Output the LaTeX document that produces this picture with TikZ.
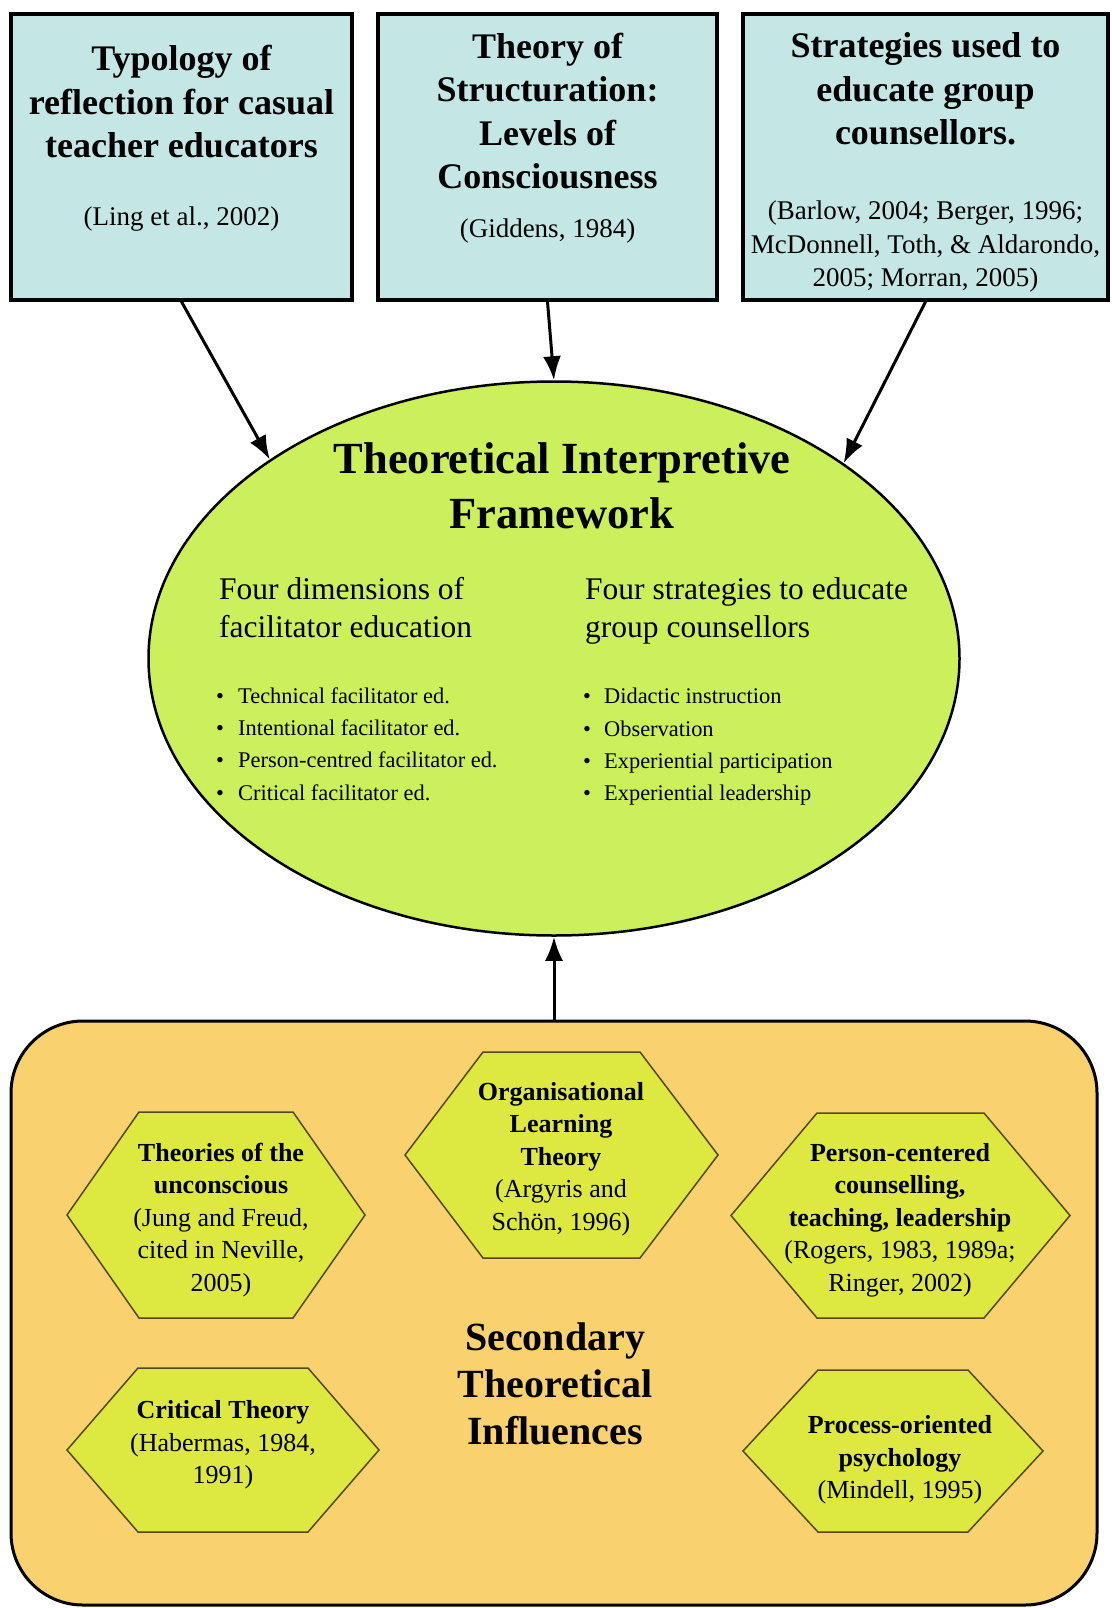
\documentclass[tikz,border=0pt]{standalone}
\usepackage{fontspec}
\setmainfont{Liberation Serif}
\usetikzlibrary{arrows.meta,shapes.geometric}

\definecolor{srcblue}{RGB}{196,231,229}
\definecolor{framegreen}{RGB}{204,240,92}
\definecolor{panelorange}{RGB}{249,210,111}
\definecolor{hexyellow}{RGB}{221,232,64}
\definecolor{hexedge}{RGB}{85,72,30}

\newcommand\fsz[2]{\fontsize{#1}{#2}\selectfont}
% flat-topped hexagon: centre x, centre y, half width, half height, corner inset
\newcommand\hexcell[5]{%
  \draw[hexshape] (#1-#3,#2) -- (#1-#3+#5,#2-#4) -- (#1+#3-#5,#2-#4)
    -- (#1+#3,#2) -- (#1+#3-#5,#2+#4) -- (#1-#3+#5,#2+#4) -- cycle;}

\begin{document}
\begin{tikzpicture}[x=1pt,y=-1pt,
  srcbox/.style={draw=black, line width=3.5pt, fill=srcblue, inner sep=0pt},
  srctitle/.style={align=center, inner sep=0pt, font=\bfseries\fsz{36}{43.5}},
  srccite/.style={align=center, inner sep=0pt, font=\fsz{27}{33.5}},
  hexshape/.style={draw=hexedge, line width=1.5pt, fill=hexyellow},
  hextext/.style={align=center, inner sep=0pt, font=\fsz{26}{32.5}},
  flow/.style={line width=3pt, -{Latex[length=24pt,width=18pt]}},
]
\useasboundingbox (0,0) rectangle (1111,1608);

% three source boxes
\node[srcbox, minimum width=341pt, minimum height=286pt] (b1) at (181.5,157) {};
\node[srcbox, minimum width=339pt, minimum height=286pt] (b2) at (547.5,157) {};
\node[srcbox, minimum width=365pt, minimum height=286pt] (b3) at (925.5,157) {};

\node[srctitle] (b1t) at (181.5,102) {Typology of\\reflection for casual\\teacher educators};
\node[srccite]  (b1c) at (181.5,219) {(Ling et al., 2002)};

\node[srctitle] (b2t) at (547.5,111) {Theory of\\Structuration:\\Levels of\\Consciousness};
\node[srccite]  (b2c) at (547.5,231) {(Giddens, 1984)};

\node[srctitle] (b3t) at (925.5,89) {Strategies used to\\educate group\\counsellors.};
\node[srccite]  (b3c) at (925.5,247) {(Barlow, 2004; Berger, 1996;\\McDonnell, Toth, \& Aldarondo,\\2005; Morran, 2005)};

% central framework
\node[ellipse, draw=black, line width=2.5pt, fill=framegreen, inner sep=0pt,
      minimum width=811pt, minimum height=554pt] (tif) at (554,658.5) {};

\node[align=center, inner sep=0pt, font=\bfseries\fsz{44.5}{55}] (tift) at (562,486)
  {Theoretical Interpretive\\Framework};

\node[align=left, inner sep=0pt, anchor=west, font=\fsz{31.5}{38}] (lh) at (219,608)
  {Four dimensions of\\facilitator education};
\node[align=left, inner sep=0pt, anchor=west, font=\fsz{31.5}{38}] (rh) at (585,611)
  {Four strategies to educate\\group counsellors};

\node[align=left, inner sep=0pt, anchor=west, font=\fsz{22.4}{32.3}] (ll) at (216,744)
  {\makebox[22pt][l]{\textbullet}Technical facilitator ed.\\
   \makebox[22pt][l]{\textbullet}Intentional facilitator ed.\\
   \makebox[22pt][l]{\textbullet}Person-centred facilitator ed.\\
   \makebox[22pt][l]{\textbullet}Critical facilitator ed.};
\node[align=left, inner sep=0pt, anchor=west, font=\fsz{22.4}{32.3}] (rl) at (583,747)
  {\makebox[21pt][l]{\textbullet}Didactic instruction\\
   \makebox[21pt][l]{\textbullet}Observation\\
   \makebox[21pt][l]{\textbullet}Experiential participation\\
   \makebox[21pt][l]{\textbullet}Experiential leadership};

% secondary influences panel
\node[draw=black, line width=3pt, fill=panelorange, rounded corners=72pt, inner sep=0pt,
      minimum width=1086pt, minimum height=584pt] (panel) at (554,1313) {};

\hexcell{216}{1215}{149}{103}{72}
\hexcell{561.5}{1155}{156.5}{103}{78}
\hexcell{900.5}{1215.5}{169.5}{102.5}{86}
\hexcell{223}{1450}{156}{82}{71}
\hexcell{893}{1451}{150}{81}{75}

\node[hextext] (h1) at (221,1220) {\textbf{Theories of the}\\\textbf{unconscious}\\(Jung and Freud,\\cited in Neville,\\2005)};
\node[hextext] (h2) at (561,1159) {\textbf{Organisational}\\\textbf{Learning}\\\textbf{Theory}\\(Argyris and\\Schön, 1996)};
\node[hextext] (h3) at (900,1220) {\textbf{Person-centered}\\\textbf{counselling,}\\\textbf{teaching, leadership}\\(Rogers, 1983, 1989a;\\Ringer, 2002)};
\node[hextext] (h4) at (223,1445) {\textbf{Critical Theory}\\(Habermas, 1984,\\1991)};
\node[hextext] (h5) at (900,1460) {\textbf{Process-oriented}\\\textbf{psychology}\\(Mindell, 1995)};

\node[align=center, inner sep=0pt, font=\bfseries\fsz{40}{47}] (sti) at (555,1384)
  {Secondary\\Theoretical\\Influences};

% connectors
\draw[flow] (b1.south) -- (tif.145);
\draw[flow] (b2.south) -- (tif.north);
\draw[flow] (b3.south) -- (tif.34);
\draw[flow] (panel.north) -- (tif.south);
\end{tikzpicture}
\end{document}
